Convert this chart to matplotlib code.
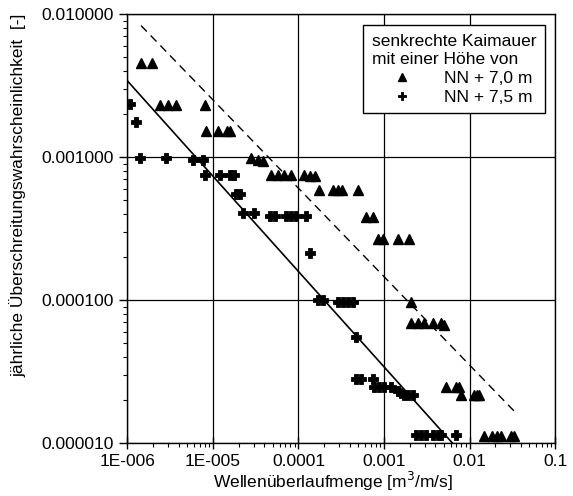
import matplotlib
matplotlib.use("Agg")
import matplotlib.pyplot as plt
from matplotlib.ticker import FixedLocator, FixedFormatter, LogLocator, NullFormatter

plt.rcParams['font.family'] = ['Liberation Sans', 'DejaVu Sans']

# NN + 7,0 m (triangles)
tri_q = [1.44e-6, 1.91e-6,
         2.41e-6, 2.94e-6, 3.65e-6, 8.0e-6,
         8.2e-6, 1.13e-5, 1.44e-5, 1.57e-5,
         2.81e-5, 3.36e-5, 3.84e-5,
         4.82e-5, 5.7e-5, 6.7e-5, 8.1e-5, 1.15e-4, 1.35e-4, 1.54e-4,
         1.73e-4, 2.52e-4, 2.88e-4, 3.25e-4, 4.93e-4,
         6.18e-4, 7.5e-4,
         8.45e-4, 9.85e-4, 1.47e-3, 1.98e-3,
         2.07e-3,
         2.07e-3, 2.47e-3, 2.96e-3, 3.70e-3, 4.63e-3, 5.07e-3,
         5.31e-3, 6.94e-3, 7.58e-3,
         8.0e-3, 1.13e-2, 1.22e-2, 1.30e-2,
         1.49e-2, 1.85e-2, 2.12e-2, 2.32e-2, 3.04e-2, 3.33e-2]
tri_p = [4.54e-3, 4.54e-3,
         2.31e-3, 2.31e-3, 2.31e-3, 2.31e-3,
         1.53e-3, 1.53e-3, 1.53e-3, 1.53e-3,
         9.8e-4, 9.5e-4, 9.4e-4,
         7.5e-4, 7.5e-4, 7.5e-4, 7.5e-4, 7.5e-4, 7.4e-4, 7.4e-4,
         5.87e-4, 5.87e-4, 5.87e-4, 5.87e-4, 5.87e-4,
         3.83e-4, 3.83e-4,
         2.65e-4, 2.65e-4, 2.65e-4, 2.65e-4,
         9.7e-5,
         6.9e-5, 6.9e-5, 6.9e-5, 6.9e-5, 6.9e-5, 6.7e-5,
         2.48e-5, 2.48e-5, 2.48e-5,
         2.17e-5, 2.17e-5, 2.17e-5, 2.17e-5,
         1.11e-5, 1.11e-5, 1.11e-5, 1.11e-5, 1.11e-5, 1.11e-5]

# NN + 7,5 m (plus signs)
plus_q = [1.07e-6, 1.25e-6, 1.40e-6, 2.79e-6, 5.86e-6, 7.66e-6,
          8.0e-6, 1.2e-5, 1.57e-5, 1.75e-5,
          1.85e-5, 2.06e-5,
          2.23e-5, 2.99e-5,
          4.6e-5, 5.26e-5, 7.2e-5, 8.25e-5, 9.4e-5, 1.21e-4,
          1.38e-4,
          1.68e-4, 1.93e-4, 2.88e-4, 3.30e-4, 3.77e-4, 4.31e-4,
          4.72e-4,
          4.72e-4, 5.41e-4, 7.38e-4,
          7.73e-4, 8.84e-4, 1.01e-3, 1.21e-3,
          1.44e-3, 1.58e-3, 1.73e-3, 1.89e-3, 2.16e-3,
          2.37e-3, 2.71e-3, 3.10e-3, 3.70e-3, 4.23e-3, 4.64e-3, 6.93e-3]
plus_p = [2.33e-3, 1.77e-3, 9.9e-4, 9.9e-4, 9.5e-4, 9.5e-4,
          7.48e-4, 7.48e-4, 7.48e-4, 7.48e-4,
          5.48e-4, 5.48e-4,
          4.09e-4, 4.09e-4,
          3.87e-4, 3.87e-4, 3.87e-4, 3.87e-4, 3.87e-4, 3.87e-4,
          2.14e-4,
          1.0e-4, 1.0e-4, 9.7e-5, 9.7e-5, 9.7e-5, 9.7e-5,
          5.5e-5,
          2.81e-5, 2.81e-5, 2.81e-5,
          2.48e-5, 2.48e-5, 2.48e-5, 2.48e-5,
          2.31e-5, 2.23e-5, 2.17e-5, 2.17e-5, 2.17e-5,
          1.13e-5, 1.13e-5, 1.13e-5, 1.13e-5, 1.13e-5, 1.13e-5, 1.13e-5]

# fitted lines (end points)
solid_q = [1.0e-6, 6.3e-3]
solid_p = [3.4e-3, 1.0e-5]
dashed_q = [1.44e-6, 3.33e-2]
dashed_p = [8.3e-3, 1.67e-5]

x_ticks = [1e-6, 1e-5, 1e-4, 1e-3, 1e-2, 1e-1]
x_labels = ['1E-006', '1E-005', '0.0001', '0.001', '0.01', '0.1']
y_ticks = [1e-5, 1e-4, 1e-3, 1e-2]
y_labels = ['0.000010', '0.000100', '0.001000', '0.010000']

fs = 12.5

fig = plt.figure(figsize=(5.73, 4.96), dpi=100)
ax = fig.add_axes([0.2225, 0.1069, 0.7461, 0.8649])
ax.set_xscale('log')
ax.set_yscale('log')
ax.set_xlim(1e-6, 1e-1)
ax.set_ylim(1e-5, 1e-2)

ax.plot(solid_q, solid_p, color='black', lw=1.2, zorder=3)
ax.plot(dashed_q, dashed_p, color='black', lw=1.0, ls=(0, (6, 4)), zorder=3)
ax.plot(tri_q, tri_p, ls='none', marker='^', ms=7.2, color='black',
        label='NN + 7,0 m', zorder=4)
ax.plot(plus_q, plus_p, ls='none', marker='P', ms=6.5, color='black',
        mew=0.6, label='NN + 7,5 m', zorder=4)

ax.xaxis.set_major_locator(FixedLocator(x_ticks))
ax.xaxis.set_major_formatter(FixedFormatter(x_labels))
ax.yaxis.set_major_locator(FixedLocator(y_ticks))
ax.yaxis.set_major_formatter(FixedFormatter(y_labels))
ax.xaxis.set_minor_locator(LogLocator(base=10, subs=range(2, 10), numticks=20))
ax.yaxis.set_minor_locator(LogLocator(base=10, subs=range(2, 10), numticks=20))
ax.xaxis.set_minor_formatter(NullFormatter())
ax.yaxis.set_minor_formatter(NullFormatter())

ax.tick_params(axis='x', which='major', direction='inout', length=8, width=1,
               labelsize=fs, pad=4)
ax.tick_params(axis='x', which='minor', direction='out', length=3, width=0.8)
ax.tick_params(axis='y', which='major', direction='out', length=6, width=1,
               labelsize=fs, pad=4)
ax.tick_params(axis='y', which='minor', direction='out', length=3, width=0.8)

ax.grid(True, which='major', color='black', lw=0.9)
for s in ax.spines.values():
    s.set_color('black')
    s.set_linewidth(1.0)

ax.set_xlabel('Wellenüberlaufmenge [m$^3$/m/s]', fontsize=fs)
ax.xaxis.set_label_coords(0.48, -0.063)
ax.set_ylabel('jährliche Überschreitungswahrscheinlichkeit  [-]', fontsize=fs)
ax.yaxis.set_label_coords(-0.236, 0.578)

leg = ax.legend(title='senkrechte Kaimauer\nmit einer Höhe von',
                loc='upper left', bbox_to_anchor=(0.551, 0.974),
                borderaxespad=0, fontsize=fs, title_fontsize=fs,
                alignment='left', frameon=True, fancybox=False,
                edgecolor='black', framealpha=1, handlelength=3.45,
                handletextpad=0.7, borderpad=0.5, labelspacing=0.2,
                markerscale=0.85)
leg.get_title().set_linespacing(1.3)
leg.get_frame().set_linewidth(1.0)

fig.savefig('out.png', dpi=100)
